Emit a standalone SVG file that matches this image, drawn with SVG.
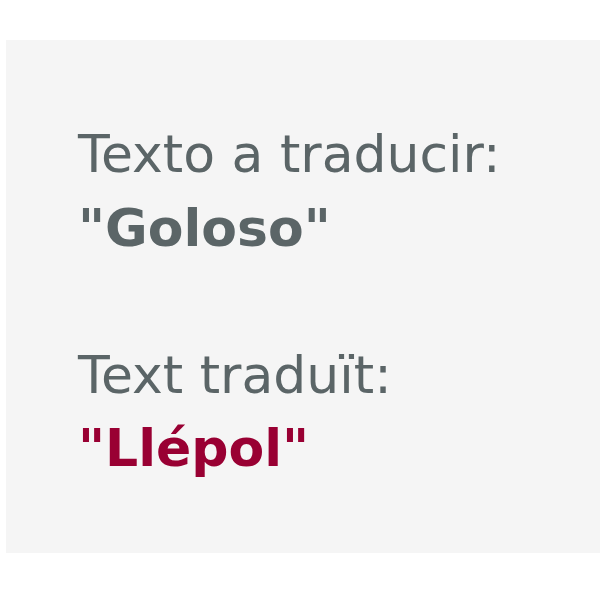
<svg xmlns="http://www.w3.org/2000/svg" width="600" height="600" viewBox="0 0 600 600">
<style>
.t{font-family:"DejaVu Sans",Verdana,sans-serif;font-size:52px;fill:#5b6567}
.b{font-weight:bold}
.r{fill:#990033}
</style>
<rect x="0" y="0" width="600" height="600" fill="#ffffff"/>
<rect x="6" y="40" width="594" height="513" fill="#f5f5f5"/>
<g id="source">
<text class="t" x="78" y="172">Texto a traducir:</text>
<text class="t b" x="78" y="246">"Goloso"</text>
</g>
<g id="target">
<text class="t" x="78" y="393">Text traduït:</text>
<text class="t b r" x="78" y="466">"Llépol"</text>
</g>
</svg>
